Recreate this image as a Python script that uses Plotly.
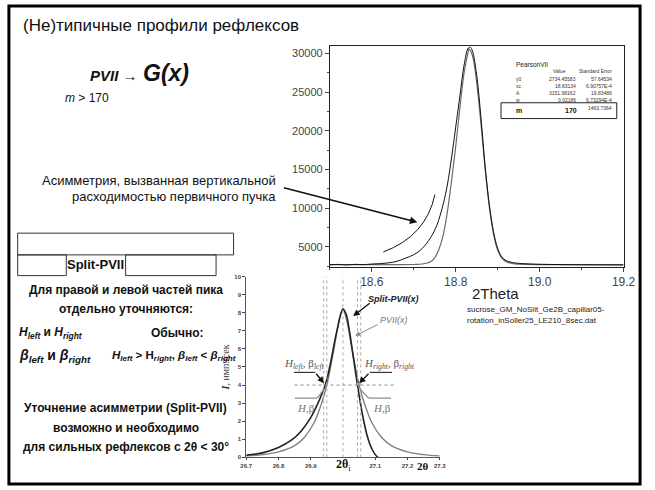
import plotly.graph_objects as go

W, H = 655, 490
def px(x): return x / W
def py(y): return 1 - y / H

# ---------------- data: top chart (measured peak and PearsonVII fit) ----------------
obs_x = [18.50, 18.52, 18.54, 18.56, 18.58, 18.60, 18.62, 18.64, 18.66, 18.68, 18.70, 18.72,
         18.74, 18.755, 18.77, 18.78, 18.79, 18.80, 18.81, 18.82, 18.83, 18.835, 18.84, 18.85,
         18.86, 18.87, 18.88, 18.89, 18.90, 18.91, 18.92, 18.94, 18.96, 18.99, 19.02, 19.06,
         19.10, 19.14, 19.18, 19.20]
obs_y = [2700, 2750, 2680, 2760, 2720, 2800, 2850, 2950, 3150, 3550, 4000, 4800,
         6200, 7800, 10500, 13000, 16500, 20500, 24500, 28500, 30700, 30800, 30300, 27200,
         21800, 15500, 10500, 7000, 4800, 3700, 3250, 2950, 2850, 2780, 2750, 2720,
         2700, 2690, 2680, 2680]
fit_x = [18.50, 18.70, 18.72, 18.74, 18.75, 18.76, 18.77, 18.78, 18.79, 18.80, 18.81, 18.82,
         18.83, 18.8315, 18.84, 18.85, 18.86, 18.87, 18.88, 18.89, 18.90, 18.91, 18.92, 18.94,
         18.97, 19.20]
fit_y = [2734, 2740, 2800, 3100, 3600, 4700, 6500, 9500, 13500, 18000, 23000, 27500,
         30300, 30600, 29700, 26200, 21000, 15200, 10200, 6700, 4600, 3550, 3100, 2820,
         2750, 2734]
top_xticks = [18.6, 18.8, 19.0, 19.2]
top_yticks = [5000, 10000, 15000, 20000, 25000, 30000]

# fit parameter table
par_names = ["y0", "xc", "A", "w"]
par_values = ["2734.45583", "18.83134", "3151.98162", "0.02186"]
par_errors = ["57.64534", "6.90757E-4", "19.83489", "6.73294E-4"]
m_value, m_error = "170", "1463.7364"

# ---------------- data: bottom chart (Split-PVII vs PVII model) ----------------
split_x = [26.70, 26.75, 26.80, 26.84, 26.87, 26.90, 26.92, 26.945, 26.96, 26.98, 27.00,
           27.01, 27.02, 27.03, 27.045, 27.06, 27.075, 27.09, 27.105, 27.11]
split_y = [0.12, 0.25, 0.55, 0.95, 1.45, 2.2, 2.9, 4.0, 5.1, 6.9, 8.2,
           7.9, 7.0, 5.8, 4.0, 2.4, 1.2, 0.45, 0.05, 0.0]
pvii_x = [26.70, 26.75, 26.80, 26.85, 26.88, 26.91, 26.93, 26.95, 26.97, 26.99, 27.00,
          27.01, 27.03, 27.05, 27.07, 27.09, 27.12, 27.15, 27.20, 27.25, 27.30]
pvii_y = [0.08, 0.15, 0.30, 0.65, 1.1, 1.9, 2.8, 4.0, 5.8, 7.7, 8.2,
          7.7, 5.8, 4.0, 2.8, 1.9, 1.1, 0.65, 0.30, 0.15, 0.08]
bot_xticks = [26.7, 26.8, 26.9, 27.1, 27.2, 27.3]
bot_yticks = list(range(0, 11))
half_level = 4.0
vlines_x = [26.94, 26.95, 27.0, 27.045, 27.055]

fig = go.Figure()
fig.add_trace(go.Scatter(x=fit_x, y=fit_y, mode="lines", line=dict(color="#6a6a6a", width=1.2, shape="spline"),
                         xaxis="x", yaxis="y", showlegend=False))
fig.add_trace(go.Scatter(x=obs_x, y=obs_y, mode="lines", line=dict(color="#111111", width=1, shape="spline"),
                         xaxis="x", yaxis="y", showlegend=False))
fig.add_trace(go.Scatter(x=pvii_x, y=pvii_y, mode="lines", line=dict(color="#808080", width=1.4, shape="spline"),
                         xaxis="x2", yaxis="y2", showlegend=False))
fig.add_trace(go.Scatter(x=split_x, y=split_y, mode="lines", line=dict(color="#222222", width=1.6, shape="spline"),
                         xaxis="x2", yaxis="y2", showlegend=False))

shapes = []
ann = []

# slide border
shapes.append(dict(type="rect", xref="paper", yref="paper", x0=px(3), x1=px(652), y0=py(487), y1=py(3),
                   line=dict(color="black", width=3)))

# bottom chart guide lines
for vx in vlines_x:
    shapes.append(dict(type="line", xref="x2", yref="y2", x0=vx, x1=vx, y0=0, y1=10,
                       line=dict(color="#aaaaaa", width=1, dash="dot")))
shapes.append(dict(type="line", xref="x2", yref="y2", x0=26.85, x1=27.16, y0=half_level, y1=half_level,
                   line=dict(color="#888888", width=1, dash="dot")))

# m-row box in parameter table
shapes.append(dict(type="rect", xref="paper", yref="paper", x0=px(509), x1=px(628), y0=py(117), y1=py(101),
                   line=dict(color="#222", width=1)))

# arc in top chart
shapes.append(dict(type="path", xref="paper", yref="paper",
                   path=f"M {px(388)},{py(252)} Q {px(432)},{py(236)} {px(441)},{py(194)}",
                   line=dict(color="#111", width=1)))

# left boxes
for (x0, y0, x1, y1) in [(12, 233, 234, 255), (12, 255, 62, 276), (123, 255, 216, 276)]:
    shapes.append(dict(type="rect", xref="paper", yref="paper", x0=px(x0), x1=px(x1), y0=py(y1), y1=py(y0),
                       line=dict(color="#333", width=1)))

# leader lines in bottom chart
def seg(x0, y0, x1, y1, color):
    shapes.append(dict(type="line", xref="paper", yref="paper", x0=px(x0), y0=py(y0), x1=px(x1), y1=py(y1),
                       line=dict(color=color, width=1.2)))
seg(296, 374, 318, 374, "#333")
seg(297, 400, 320, 400, "#888")
seg(320, 400, 327, 391, "#888")
seg(374, 374, 397, 374, "#333")
seg(373, 400, 396, 400, "#888")
seg(373, 400, 364, 391, "#888")

def arrow(tx, ty, sx, sy, color="#111", w=1.3, size=1.0):
    ann.append(dict(xref="paper", yref="paper", x=px(tx), y=py(ty), ax=sx - tx, ay=sy - ty,
                    axref="pixel", ayref="pixel", text="", showarrow=True, arrowhead=2,
                    arrowsize=size, arrowwidth=w, arrowcolor=color))
arrow(423, 222, 288, 187, w=1.5)
arrow(327, 385, 318, 374)
arrow(363, 385, 374, 374)
arrow(357, 317, 375, 303)
arrow(359, 337, 383, 325, color="#888", w=1)

def txt(x, y, s, size, xanchor="left", color="#111", family="Liberation Sans", yanchor="middle"):
    ann.append(dict(xref="paper", yref="paper", x=px(x), y=py(y), text=s, showarrow=False,
                    xanchor=xanchor, yanchor=yanchor, font=dict(size=size, color=color, family=family)))

# slide texts
txt(15, 23, "(Не)типичные профили рефлексов", 17)
txt(84, 73, "<b><i>PVII</i></b> →", 15)
txt(139, 71, "<b><i>G(x)</i></b>", 23)
txt(59, 96, "<i>m</i> > 170", 12)
txt(280, 180, "Асимметрия, вызванная вертикальной", 13, xanchor="right")
txt(280, 196, "расходимостью первичного пучка", 13, xanchor="right")

txt(92, 265, "<b>Split-PVII</b>", 13, xanchor="center")
txt(123, 291, "<b>Для правой и левой частей пика</b>", 12, xanchor="center")
txt(123, 310, "<b>отдельно уточняются:</b>", 12, xanchor="center")
txt(11, 334, "<b><i>H</i><sub><i>left</i></sub> и <i>H</i><sub><i>right</i></sub></b>", 12)
txt(176, 334, "<b>Обычно:</b>", 12, xanchor="center")
txt(11, 357, "<b><i>β</i><sub><i>left</i></sub> и <i>β</i><sub><i>right</i></sub></b>", 14)
txt(107, 357, "<b><i>H</i><sub><i>left</i></sub> > H<sub><i>right</i></sub>, <i>β</i><sub><i>left</i></sub> < <i>β</i><sub><i>right</i></sub></b>", 11.5)
txt(123, 410, "<b>Уточнение асимметрии (Split-PVII)</b>", 12, xanchor="center")
txt(123, 430, "<b>возможно и необходимо</b>", 12, xanchor="center")
txt(123, 450, "<b>для сильных рефлексов с 2θ < 30°</b>", 12, xanchor="center")

# top chart texts
txt(503, 294, "2Theta", 15, xanchor="center", color="#222")
txt(472, 310, "sucrose_GM_NoSlit_Ge2B_capillar05-", 8, color="#222")
txt(472, 321, "rotation_inSoller25_LE210_8sec.dat", 8, color="#222")

# parameter table
txt(522, 62, "PearsonVII", 6.5, color="#222")
txt(578, 69, "Value", 5, xanchor="right", color="#333")
txt(625, 69, "Standard Error", 5, xanchor="right", color="#333")
for i, (nm, v, e) in enumerate(zip(par_names, par_values, par_errors)):
    yy = 77 + i * 7
    txt(522, yy, nm, 5, color="#333")
    txt(588, yy, v, 5, xanchor="right", color="#333")
    txt(625, yy, e, 5, xanchor="right", color="#333")
txt(522, 109, "<b>m</b>", 7, color="#111")
txt(589, 109, "<b>" + m_value + "</b>", 7, xanchor="right", color="#111")
txt(625, 106, m_error, 5, xanchor="right", color="#333")

# bottom chart texts
txt(370, 300, "<b><i>Split-PVII(x)</i></b>", 9, color="#222")
txt(383, 321, "<i>PVII(x)</i>", 9, color="#777")
txt(307, 365, "<i>H</i><sub><i>left</i></sub><i>,</i> β<sub><i>left</i></sub>", 11, xanchor="center", color="#555", family="Liberation Serif")
txt(308, 410, "<i>H</i>,β", 11, xanchor="center", color="#777", family="Liberation Serif")
txt(394, 365, "<i>H</i><sub><i>right</i></sub><i>,</i> β<sub><i>right</i></sub>", 11, xanchor="center", color="#555", family="Liberation Serif")
txt(387, 410, "<i>H</i>,β", 11, xanchor="center", color="#777", family="Liberation Serif")
txt(347, 468, "<b>2θ</b><sub>i</sub>", 12, xanchor="center", family="Liberation Serif")
txt(421, 469, "<b>2θ</b>", 11, xanchor="left", family="Liberation Serif")

fig.update_layout(
    width=W, height=H, margin=dict(l=0, r=0, t=0, b=0),
    paper_bgcolor="white", plot_bgcolor="white", showlegend=False,
    shapes=shapes, annotations=ann,
    xaxis=dict(domain=[px(333), px(635)], range=[18.5, 19.2], tickvals=top_xticks,
               ticktext=[f"{v:.1f}" for v in top_xticks], ticks="outside", ticklen=4,
               minor=dict(dtick=0.1, ticks="outside", ticklen=2), showline=True, linecolor="#222",
               mirror=True, showgrid=False, zeroline=False,
               tickfont=dict(size=12, color="#444", family="Liberation Sans"), anchor="y"),
    yaxis=dict(domain=[py(267), py(44)], range=[2450, 30900], tickvals=top_yticks,
               ticktext=[str(v) for v in top_yticks],
               ticks="outside", ticklen=4, minor=dict(dtick=2500, ticks="outside", ticklen=2),
               showline=True, linecolor="#222", mirror=True, showgrid=False, zeroline=False,
               tickfont=dict(size=11, color="#444", family="Liberation Sans"), anchor="x"),
    xaxis2=dict(domain=[px(247), px(446)], range=[26.7, 27.3], tickvals=bot_xticks,
                ticktext=[f"{v:.1f}" for v in bot_xticks], ticks="outside", ticklen=2,
                showline=True, linecolor="#555", showgrid=False, zeroline=False,
                tickfont=dict(size=6, color="#444", family="Liberation Sans", weight="bold"), anchor="y2"),
    yaxis2=dict(domain=[py(460), py(277)], range=[0, 10], tickvals=bot_yticks,
                ticks="outside", ticklen=3, showline=True, linecolor="#555", showgrid=False,
                zeroline=False, tickfont=dict(size=6, color="#444", family="Liberation Sans", weight="bold"),
                title=dict(text="<b><i>I</i></b>, имп./сек", font=dict(size=10, family="Liberation Serif", color="#333"),
                           standoff=2), anchor="x2"),
)

fig.write_html("out.html")
